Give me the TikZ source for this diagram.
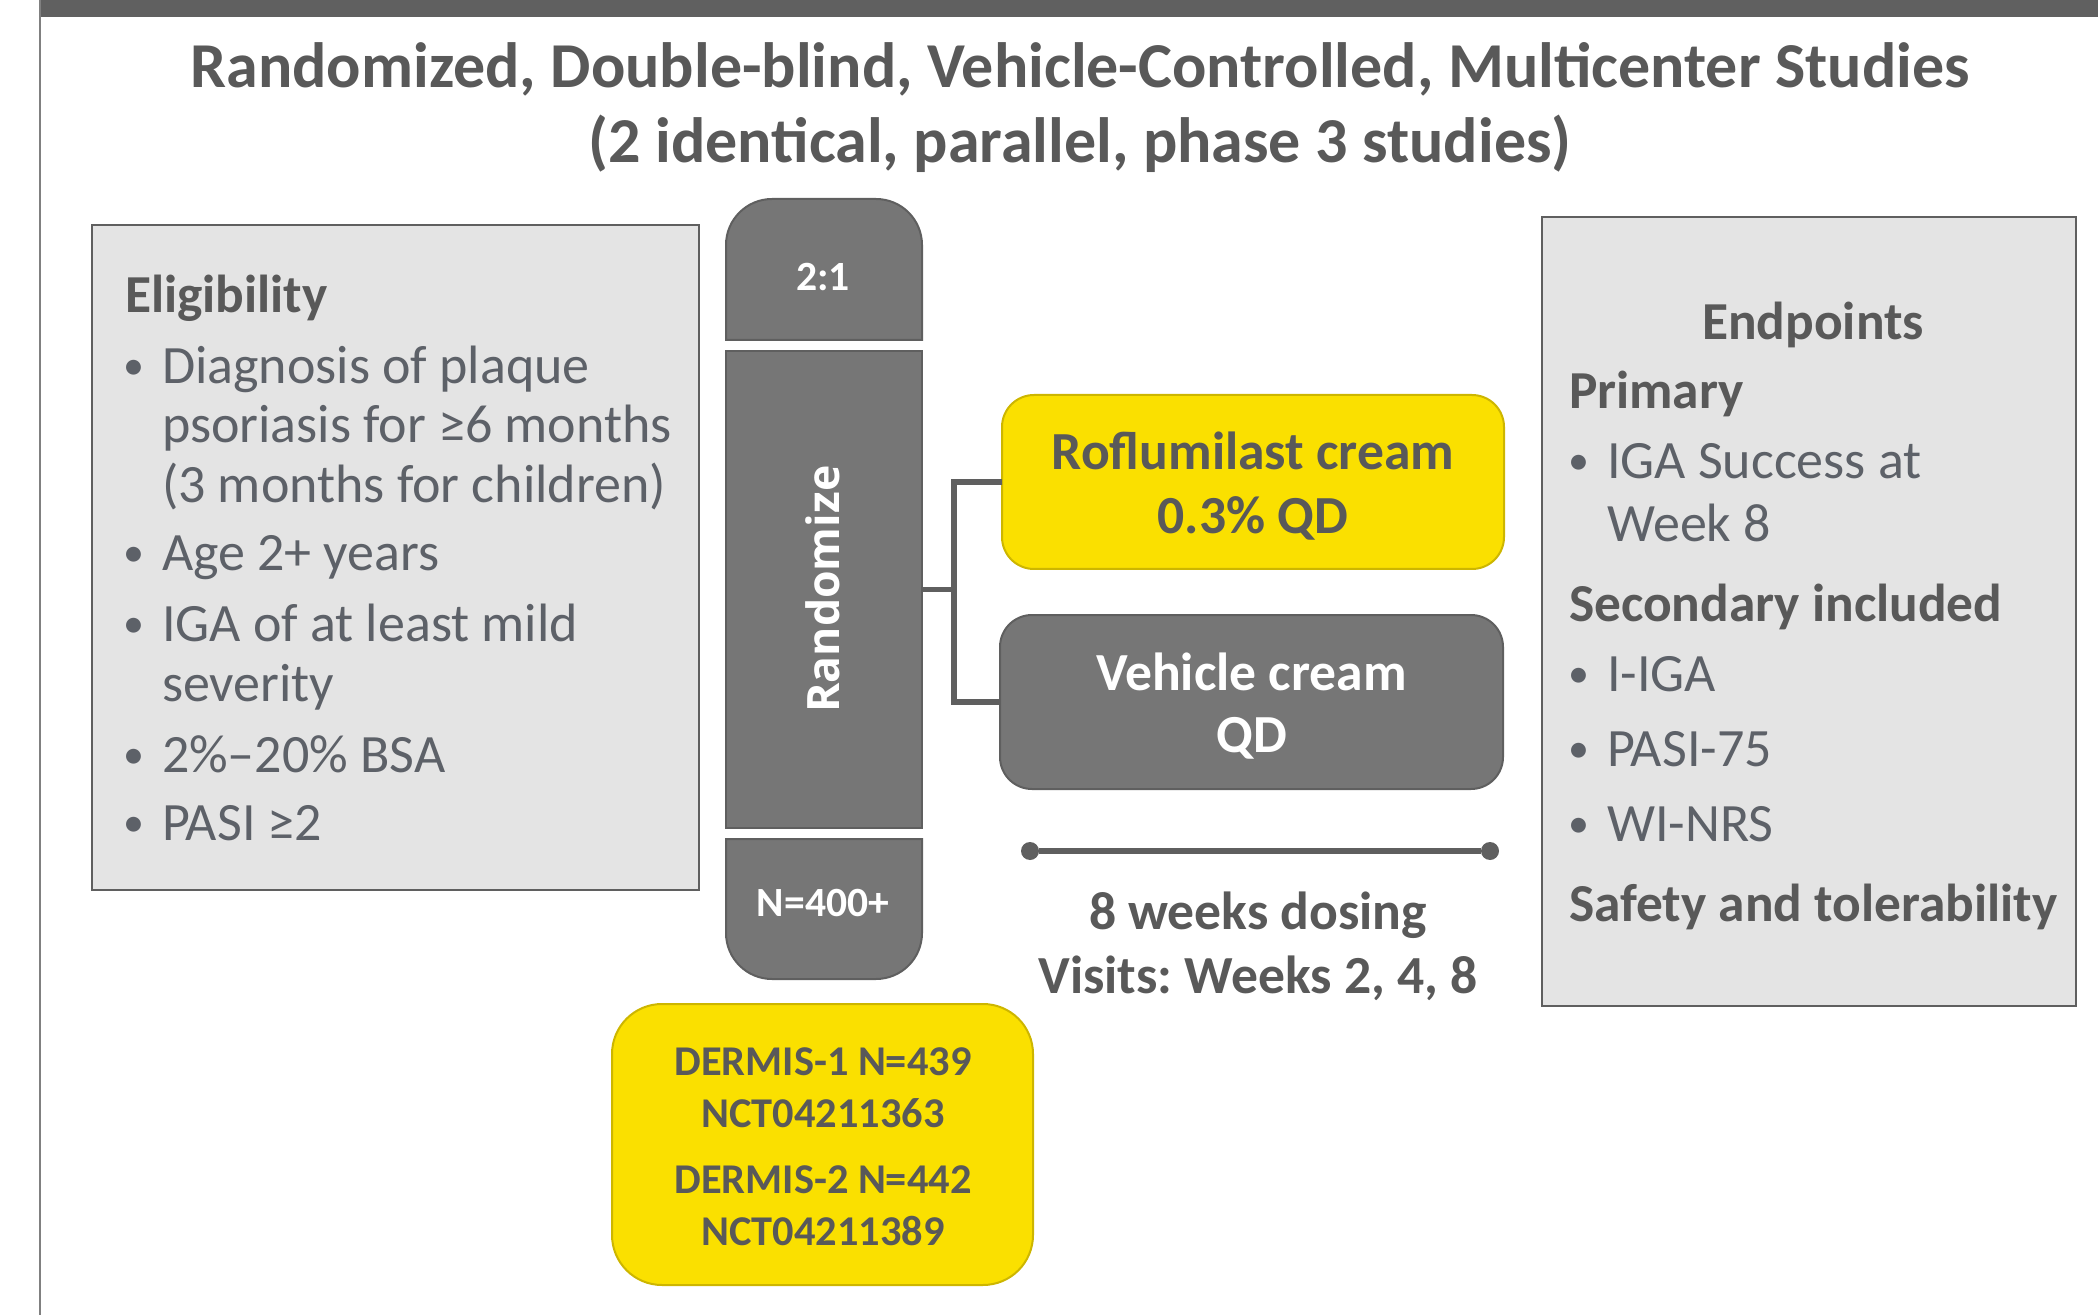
\documentclass[tikz,border=0pt]{standalone}
\usepackage{fontspec}
\setmainfont{Carlito}
\newfontfamily\osans{Open Sans}
\frenchspacing
\definecolor{barc}{HTML}{606060}
\definecolor{edgec}{HTML}{5F5F5F}
\definecolor{lightc}{HTML}{E4E4E4}
\definecolor{darkc}{HTML}{767676}
\definecolor{yelc}{HTML}{FAE000}
\definecolor{yeledge}{HTML}{CDB600}
\definecolor{boldtxt}{HTML}{595959}
\definecolor{regtxt}{HTML}{5D6168}
\begin{document}
\begin{tikzpicture}[x=0.5pt,y=-0.5pt,
  every node/.style={inner sep=0pt, outer sep=0pt},
  graybox/.style={draw=edgec, line width=1.3pt, fill=lightc, rectangle},
  darkbox/.style={draw=edgec, line width=1pt, fill=darkc, rectangle},
  yelbox/.style={draw=yeledge, line width=1pt, fill=yelc, rectangle},
  capshape/.style={fill=darkc, draw=edgec, line width=1pt},
  conn/.style={draw=edgec, line width=2.6pt},
  ttl/.style={anchor=base, text=boldtxt, font=\bfseries\fontsize{32}{38}\selectfont},
  hd/.style={anchor=base west, text=boldtxt, font=\bfseries\fontsize{26.7}{31}\selectfont},
  itm/.style={anchor=base west, text=regtxt, font=\fontsize{27}{31}\selectfont},
  bul/.style={anchor=base west, text=regtxt, font=\fontsize{21}{25}\selectfont},
  bx/.style={anchor=base, text=boldtxt, font=\bfseries\fontsize{26.8}{31}\selectfont},
  wbx/.style={anchor=base, text=white, font=\bfseries\fontsize{26.8}{31}\selectfont},
  sm/.style={anchor=base, text=white, font=\bfseries\fontsize{20.8}{24}\selectfont},
  dm/.style={anchor=base, text=boldtxt, font=\bfseries\fontsize{21.2}{25}\selectfont},
  dot/.style={circle, fill=edgec, minimum size=9pt}
]
\useasboundingbox (0,0) rectangle (2098,1315);
% frame
\fill[barc] (40,0) rectangle (2098,17);
\draw[line width=1pt, color=gray] (40,0) -- (40,1315);
% title
\node[ttl] (t1) at (1080,88) {Randomized, Double-blind, Vehicle-Controlled, Multicenter Studies};
\node[ttl] (t2) at (1080,163) {(2 identical, parallel, phase 3 studies)};
% eligibility
\node[graybox, minimum width=303.5pt, minimum height=332.5pt] (elig) at (395.5,557.5) {};
\node[hd] (eh) at (125,313) {Eligibility};
\node[bul] (eb1) at (123,380) {•};
\node[itm] (e1a) at (162,384) {Diagnosis of plaque};
\node[itm] (e1b) at (162,443) {psoriasis for ≥6 months};
\node[itm] (e1c) at (162,503) {(3 months for children)};
\node[bul] (eb2) at (123,567) {•};
\node[itm] (e2) at (162,571) {Age 2+ years};
\node[bul] (eb3) at (123,637) {•};
\node[itm] (e3a) at (162,641) {IGA of at least mild};
\node[itm] (e3b) at (162,701) {severity};
\node[bul] (eb4) at (123,768) {•};
\node[itm] (e4) at (162,772) {2\%–20\% BSA};
\node[bul] (eb5) at (123,836) {•};
\node[itm] (e5) at (162,840) {PASI ≥2};
% randomize column
\path[capshape] (726,340) -- (726,245) arc[start angle=180, end angle=90, radius=23pt] -- (876,199) arc[start angle=90, end angle=0, radius=23pt] -- (922,340) -- cycle;
\node[sm] (ratio) at (823,291) {2:1};
\node[darkbox, minimum width=98pt, minimum height=238.5pt] (rand) at (824,589.5) {};
\node[rotate=90, text=white, font=\osans\bfseries\fontsize{22.3}{26}\selectfont] (randtxt) at (823,589) {Randomize};
\path[capshape] (726,839) -- (922,839) -- (922,933) arc[start angle=0, end angle=-90, radius=23pt] -- (772,979) arc[start angle=270, end angle=180, radius=23pt] -- cycle;
\node[sm] (nn) at (823,916) {N=400+};
% arms
\node[yelbox, rounded corners=16pt, minimum width=251pt, minimum height=87pt] (rof) at (1253,482) {};
\node[darkbox, rounded corners=16pt, minimum width=251.5pt, minimum height=87pt] (veh) at (1251.5,702) {};
\coordinate (jn) at (954,589.5);
\draw[conn] (rand.east) -- (jn);
\draw[conn] (rof.west) -| (jn) |- (veh.west);
\node[bx] (r1) at (1253,470) {Roflumilast cream};
\node[bx] (r2) at (1253,534) {0.3\% QD};
\node[wbx] (v1) at (1251.5,690) {Vehicle cream};
\node[wbx] (v2) at (1251.5,752) {QD};
% timeline
\node[dot] (d1) at (1030,851) {};
\node[dot] (d2) at (1490,851) {};
\draw[draw=edgec, line width=3.2pt] (d1) -- (d2);
\node[bx] (w1) at (1258,929) {8 weeks dosing};
\node[bx] (w2) at (1258,993) {Visits: Weeks 2, 4, 8};
% dermis
\node[yelbox, rounded corners=25pt, minimum width=210.5pt, minimum height=140.5pt] (derm) at (822.5,1144.5) {};
\node[dm] (dm1) at (823,1075) {DERMIS-1 N=439};
\node[dm] (dm2) at (823,1127) {NCT04211363};
\node[dm] (dm3) at (823,1193) {DERMIS-2 N=442};
\node[dm] (dm4) at (823,1245) {NCT04211389};
% endpoints
\node[graybox, minimum width=267pt, minimum height=394.5pt] (endp) at (1809,611.5) {};
\node[hd, anchor=base] (ph) at (1813,340) {Endpoints};
\node[hd] (pp) at (1569,409) {Primary};
\node[bul] (pb1) at (1568,475) {•};
\node[itm] (p1a) at (1607,479) {IGA Success at};
\node[itm] (p1b) at (1607,542) {Week 8};
\node[hd] (sh) at (1569,621) {Secondary included};
\node[bul] (sb1) at (1568,687) {•};
\node[itm] (s1) at (1607,691) {I-IGA};
\node[bul] (sb2) at (1568,762) {•};
\node[itm] (s2) at (1607,766) {PASI-75};
\node[bul] (sb3) at (1568,837) {•};
\node[itm] (s3) at (1607,841) {WI-NRS};
\node[hd] (sf) at (1569,921) {Safety and tolerability};
\end{tikzpicture}
\end{document}
